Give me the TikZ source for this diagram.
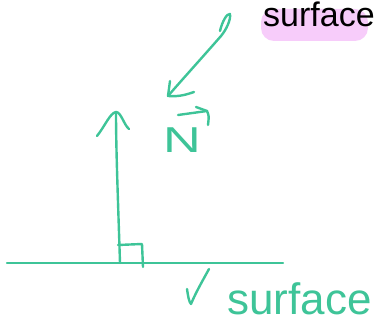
\documentclass[tikz,border=0pt]{standalone}
\usepackage{fontspec}
\setmainfont{Liberation Sans}
\definecolor{pencol}{RGB}{62,196,152}
\definecolor{hl}{RGB}{247,204,250}
\begin{document}
\begin{tikzpicture}[x=1pt,y=-1pt,
  pen/.style={draw=pencol, line width=2.4pt, line cap=round, line join=round}]
\useasboundingbox (0,0) rectangle (375,323);
% highlighted title
\fill[hl, rounded corners=13pt] (261,9) rectangle (368,41);
\node[anchor=base west, inner sep=0, font=\fontsize{34}{40}\selectfont] (title) at (263,27) {surface};
% surface line
\coordinate (sL) at (7,263);
\coordinate (sR) at (283,263);
\draw[pen] (sL) -- (sR);
% normal arrow
\coordinate (nB) at (120,263);
\coordinate (nT) at (116,112);
\draw[pen] (nB) .. controls (118,200) and (116,150) .. (nT);
\draw[pen] (97,136) .. controls (105,126) and (110,113) .. (nT) .. controls (121,112) and (124,125) .. (129,129);
% right angle mark
\coordinate (r1) at (118,245);
\coordinate (r2) at (142,244);
\coordinate (r3) at (143,267);
\draw[pen] (r1) -- (r2) -- (r3);
% diagonal arrow
\coordinate (dL) at (220,31);
\coordinate (dS) at (230,14);
\coordinate (dT) at (168,96);
\draw[pen] (dL) .. controls (222,22) and (227,13) .. (dS) .. controls (231,20) and (226,30) .. (221,36) .. controls (200,60) and (180,82) .. (dT);
\coordinate (h1) at (170,81);
\coordinate (h2) at (194,92);
\draw[pen] (h1) .. controls (169,88) .. (dT) .. controls (180,97) and (188,94) .. (h2);
% N with vector arrow
\node[text=pencol, anchor=base west, inner sep=0, font=\fontsize{36}{40}\selectfont] (N) at (163,153) {\scalebox{1.45}[1]{N}};
\coordinate (v1) at (178,115);
\coordinate (v2) at (207,111);
\coordinate (v3) at (196,107);
\coordinate (v4) at (208,125);
\draw[pen] (v1) -- (v2);
\draw[pen] (v3) -- (v2) .. controls (209,116) .. (v4);
% check mark
\coordinate (c1) at (187,289);
\coordinate (c2) at (191,304);
\coordinate (c3) at (209,269);
\draw[pen] (c1) .. controls (188,296) and (189,302) .. (c2) .. controls (196,292) and (203,280) .. (c3);
% green label
\node[text=pencol, anchor=base west, inner sep=0, font=\fontsize{44}{50}\selectfont] (lbl) at (227,314) {surface};
\end{tikzpicture}
\end{document}
